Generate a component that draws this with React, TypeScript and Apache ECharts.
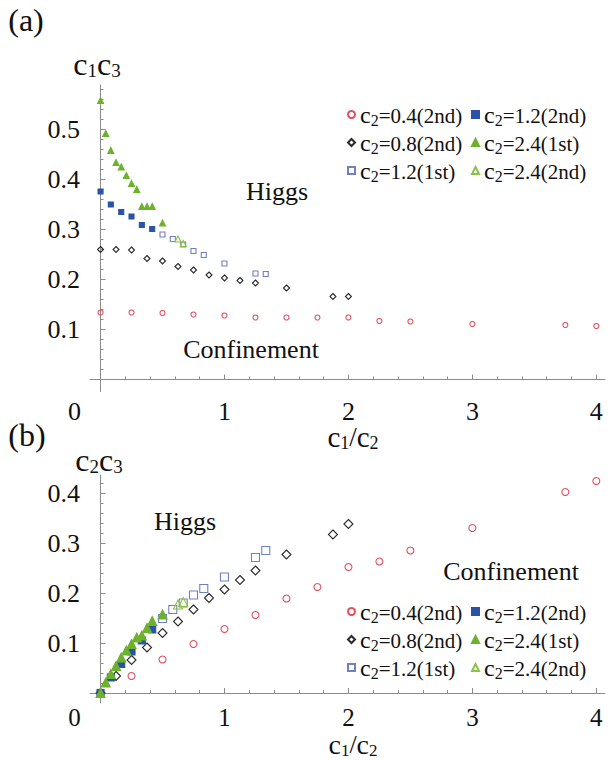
import React, { useEffect, useRef } from "react";
import * as echarts from "echarts";

const SERIF = "Liberation Serif, DejaVu Serif, serif";
const AXIS = "#8c8c8c";

// ---- tick labels ----
const X_LABELS = [0, 1, 2, 3, 4];
const A_Y_LABELS = [0.1, 0.2, 0.3, 0.4, 0.5];
const B_Y_LABELS = [0.1, 0.2, 0.3, 0.4];

// ---- series names ----
const N_RED = "c2=0.4(2nd)";
const N_DIA = "c2=0.8(2nd)";
const N_BOPEN = "c2=1.2(1st)";
const N_BFILL = "c2=1.2(2nd)";
const N_GFILL = "c2=2.4(1st)";
const N_GOPEN = "c2=2.4(2nd)";

// ---- c1/c2 values of each series ----
const xRed = [0, 0.25, 0.5, 0.75, 1, 1.25, 1.5, 1.75, 2, 2.25, 2.5, 3, 3.75, 4];
const xDia = [0, 0.125, 0.25, 0.375, 0.5, 0.625, 0.75, 0.875, 1, 1.125, 1.25, 1.5, 1.875, 2];
const xBOpen = [0.5, 0.583, 0.667, 0.75, 0.833, 1, 1.25, 1.333];
const xBFill = [0, 0.083, 0.167, 0.25, 0.333, 0.417];
const xGFill = [0, 0.042, 0.083, 0.125, 0.167, 0.208, 0.25, 0.292, 0.333, 0.375, 0.417, 0.5];
const xGOpen = [0.625, 0.667];

// ---- (a) c1c3 ----
const aRed = [0.134, 0.134, 0.133, 0.13, 0.128, 0.124, 0.124, 0.124, 0.124, 0.117, 0.116, 0.111, 0.109, 0.107];
const aDia = [0.26, 0.26, 0.259, 0.242, 0.237, 0.226, 0.219, 0.209, 0.203, 0.198, 0.193, 0.183, 0.166, 0.166];
const aBOpen = [0.29, 0.281, 0.27, 0.257, 0.249, 0.232, 0.212, 0.211];
const aBFill = [0.376, 0.35, 0.335, 0.326, 0.309, 0.301];
const aGFill = [0.558, 0.492, 0.458, 0.434, 0.425, 0.408, 0.392, 0.38, 0.346, 0.346, 0.346, 0.313];
const aGOpen = [0.281, 0.272];

// ---- (b) c2c3 ----
const bRed = [0, 0.034, 0.067, 0.098, 0.128, 0.156, 0.189, 0.212, 0.252, 0.263, 0.285, 0.33, 0.402, 0.424];
const bDia = [0, 0.034, 0.066, 0.091, 0.12, 0.143, 0.167, 0.19, 0.207, 0.226, 0.245, 0.277, 0.317, 0.338];
const bBOpen = [0.149, 0.167, 0.18, 0.196, 0.209, 0.232, 0.271, 0.285];
const bBFill = [0, 0.031, 0.058, 0.083, 0.105, 0.127];
const bGFill = [0, 0.021, 0.038, 0.054, 0.071, 0.085, 0.098, 0.111, 0.115, 0.13, 0.144, 0.157];
const bGOpen = [0.177, 0.182];

const pairs = (xs: number[], ys: number[]) => xs.map((x, i) => [x, ys[i]]);

type Style = { name: string; symbol: string; fill: string; stroke: string; sa: number; sb: number };
const STYLES: Record<string, Style> = {
  red: { name: N_RED, symbol: "circle", fill: "rgba(0,0,0,0)", stroke: "#e0505f", sa: 5, sb: 7 },
  dia: { name: N_DIA, symbol: "diamond", fill: "rgba(0,0,0,0)", stroke: "#2a2a2a", sa: 6, sb: 9 },
  bopen: { name: N_BOPEN, symbol: "rect", fill: "rgba(0,0,0,0)", stroke: "#6f80c6", sa: 5, sb: 8 },
  gopen: { name: N_GOPEN, symbol: "triangle", fill: "rgba(0,0,0,0)", stroke: "#8cc24c", sa: 6, sb: 9 },
  bfill: { name: N_BFILL, symbol: "rect", fill: "#2a52a6", stroke: "#2a52a6", sa: 5, sb: 7 },
  gfill: { name: N_GFILL, symbol: "triangle", fill: "#6cb22c", stroke: "#6cb22c", sa: 6, sb: 9 },
};

const X_MIN = -0.085;
const X_MAX = 4.07;

function minorTicks(step: number, to: number, major: number) {
  const out: number[] = [];
  for (let i = 1; i * step <= to + 1e-9; i++) {
    const v = Math.round(i * step * 1000) / 1000;
    if (Math.abs(v / major - Math.round(v / major)) > 1e-6) out.push(v);
  }
  return out;
}

function xAxes(gridIndex: number, labelMargin: number, labelSize: number) {
  return [
    {
      type: "value",
      gridIndex,
      min: X_MIN,
      max: X_MAX,
      position: "bottom",
      axisLine: { onZero: true, lineStyle: { color: AXIS, width: 1 } },
      axisTick: { inside: true, length: 5, customValues: X_LABELS.slice(1), lineStyle: { color: AXIS } },
      axisLabel: {
        customValues: X_LABELS,
        margin: labelMargin,
        color: "#111",
        fontFamily: SERIF,
        fontSize: labelSize,
        lineHeight: labelSize,
        formatter: (v: number) => (v === 0 ? "{o|0}" : String(v)),
        rich: {
          o: { fontFamily: SERIF, fontSize: labelSize, lineHeight: labelSize, color: "#111", padding: [0, 52, 0, 0] },
        },
      },
      splitLine: { show: false },
    },
    {
      type: "value",
      gridIndex,
      min: X_MIN,
      max: X_MAX,
      position: "bottom",
      axisLine: { show: false, onZero: true },
      axisTick: { inside: true, length: 3, customValues: minorTicks(0.2, 4, 1), lineStyle: { color: AXIS } },
      axisLabel: { show: false },
      splitLine: { show: false },
    },
  ];
}

function yAxes(gridIndex: number, min: number, max: number, labels: number[]) {
  return [
    {
      type: "value",
      gridIndex,
      min,
      max,
      position: "left",
      axisLine: { onZero: true, lineStyle: { color: AXIS, width: 1 } },
      axisTick: { inside: true, length: 5, customValues: labels, lineStyle: { color: AXIS } },
      axisLabel: {
        customValues: labels,
        margin: 10,
        color: "#111",
        fontFamily: SERIF,
        fontSize: 26,
        formatter: (v: number) => v.toFixed(1),
      },
      splitLine: { show: false },
    },
    {
      type: "value",
      gridIndex,
      min,
      max,
      position: "left",
      axisLine: { show: false, onZero: true },
      axisTick: { inside: true, length: 3, customValues: minorTicks(0.02, max, 0.1), lineStyle: { color: AXIS } },
      axisLabel: { show: false },
      splitLine: { show: false },
    },
  ];
}

function scatter(key: string, data: number[][], panel: "a" | "b") {
  const s = STYLES[key];
  const axis = panel === "a" ? 0 : 2;
  return {
    type: "scatter",
    name: s.name,
    xAxisIndex: axis,
    yAxisIndex: axis,
    symbol: s.symbol,
    symbolSize: panel === "a" ? s.sa : s.sb,
    itemStyle: { color: s.fill, borderColor: s.stroke, borderWidth: 1.1, opacity: 1 },
    data,
    silent: true,
  };
}

// subscripts are lowered with a top padding (half of it shifts the glyph down)
const legendRich = {
  c: { fontFamily: SERIF, fontSize: 24, color: "#111", lineHeight: 22 },
  s: { fontFamily: SERIF, fontSize: 16, color: "#111", lineHeight: 12, padding: [11, 0, 0, 0] },
  t: { fontFamily: SERIF, fontSize: 21, color: "#111", lineHeight: 20, padding: [2, 0, 0, 0] },
};

function legend(names: string[], left: number, top: number) {
  return {
    data: names,
    orient: "vertical",
    left,
    top,
    padding: 0,
    itemGap: 1,
    itemWidth: 7,
    itemHeight: 7,
    selectedMode: false,
    formatter: (n: string) => `{c|c}{s|2}{t|${n.slice(2)}}`,
    textStyle: { rich: legendRich },
  };
}

const nameRich = {
  c: { fontFamily: SERIF, fontSize: 32, color: "#111", lineHeight: 24 },
  s: { fontFamily: SERIF, fontSize: 19, color: "#111", lineHeight: 14, padding: [13, 0, 0, 0] },
  t: { fontFamily: SERIF, fontSize: 30, color: "#111", lineHeight: 24 },
};

const xNameRich = {
  c: { fontFamily: SERIF, fontSize: 29, color: "#111", lineHeight: 22 },
  s: { fontFamily: SERIF, fontSize: 18, color: "#111", lineHeight: 12, padding: [12, 0, 0, 0] },
  t: { fontFamily: SERIF, fontSize: 27, color: "#111", lineHeight: 22 },
};

const xNameRichLow = {
  c: { fontFamily: SERIF, fontSize: 28, color: "#111", lineHeight: 21 },
  s: { fontFamily: SERIF, fontSize: 17, color: "#111", lineHeight: 11, padding: [12, 0, 0, 0] },
  t: { fontFamily: SERIF, fontSize: 26, color: "#111", lineHeight: 21 },
};

function label(text: string, x: number, y: number, size: number, rich?: object) {
  return {
    type: "text",
    x,
    y,
    silent: true,
    style: {
      text,
      fontFamily: SERIF,
      fontSize: size,
      fill: "#111",
      align: "center",
      verticalAlign: "middle",
      ...(rich ? { rich } : {}),
    },
  };
}

export default function App() {
  const ref = useRef<HTMLDivElement>(null);

  useEffect(() => {
    if (!ref.current) return;
    const chart = echarts.init(ref.current, undefined, { renderer: "svg" });
    chart.setOption({
      animation: false,
      backgroundColor: "#ffffff",
      textStyle: { fontFamily: SERIF },
      grid: [
        { left: 90, width: 515, top: 85, height: 306.5 },
        { left: 90, width: 515, top: 475, height: 228 },
      ],
      xAxis: [...xAxes(0, 7, 26), ...xAxes(1, 2, 25)],
      yAxis: [...yAxes(0, -0.024, 0.589, A_Y_LABELS), ...yAxes(1, -0.02, 0.436, B_Y_LABELS)],
      legend: [
        legend([N_RED, N_DIA, N_BOPEN], 347, 101),
        legend([N_BFILL, N_GFILL, N_GOPEN], 471, 101),
        legend([N_RED, N_DIA, N_BOPEN], 347, 598),
        legend([N_BFILL, N_GFILL, N_GOPEN], 471, 598),
      ],
      series: [
        scatter("red", pairs(xRed, aRed), "a"),
        scatter("dia", pairs(xDia, aDia), "a"),
        scatter("bopen", pairs(xBOpen, aBOpen), "a"),
        scatter("gopen", pairs(xGOpen, aGOpen), "a"),
        scatter("bfill", pairs(xBFill, aBFill), "a"),
        scatter("gfill", pairs(xGFill, aGFill), "a"),
        scatter("red", pairs(xRed, bRed), "b"),
        scatter("dia", pairs(xDia, bDia), "b"),
        scatter("bopen", pairs(xBOpen, bBOpen), "b"),
        scatter("gopen", pairs(xGOpen, bGOpen), "b"),
        scatter("bfill", pairs(xBFill, bBFill), "b"),
        scatter("gfill", pairs(xGFill, bGFill), "b"),
      ],
      graphic: [
        label("(a)", 26, 20, 32),
        label("(b)", 27, 435, 32),
        label("{c|c}{s|1}{c|c}{s|3}", 97, 64, 32, nameRich),
        label("{c|c}{s|2}{c|c}{s|3}", 99, 460, 32, nameRich),
        label("{c|c}{s|1}{t|/}{c|c}{s|2}", 353, 437, 29, xNameRich),
        label("{c|c}{s|1}{t|/}{c|c}{s|2}", 353, 744.5, 28, xNameRichLow),
        label("Higgs", 277, 191, 26),
        label("Confinement", 251, 349, 26),
        label("Higgs", 185, 521, 26),
        label("Confinement", 511, 571, 26),
      ],
    });
    return () => chart.dispose();
  }, []);

  return (
    <div
      ref={ref}
      style={{ position: "fixed", left: 0, top: 0, width: 611, height: 760, background: "#fff" }}
    />
  );
}
